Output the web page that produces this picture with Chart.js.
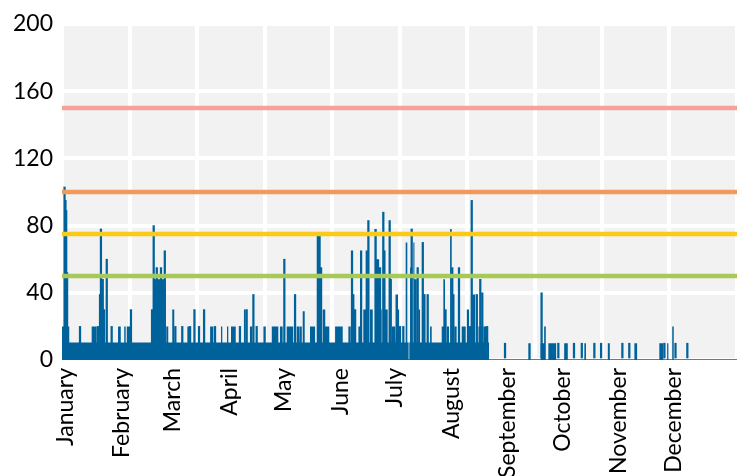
<!DOCTYPE html>
<html>
<head>
<meta charset="utf-8">
<script src="https://cdn.jsdelivr.net/npm/chart.js@4.4.1/dist/chart.umd.min.js"></script>
<style>
  html, body { margin: 0; padding: 0; background: #fff; overflow: hidden; }
  #wrap { width: 746px; height: 476px; }
</style>
</head>
<body>
<div id="wrap"><canvas id="chart" width="746" height="476"></canvas></div>
<script>
// x values are days of the year (0 = 1 January)
const monthNames = ['January', 'February', 'March', 'April', 'May', 'June',
    'July', 'August', 'September', 'October', 'November', 'December'];
const monthDays = [0, 31, 59, 90, 120, 151, 181, 212, 243, 273, 304, 334];
const gridDays = [-2, 35.1, 72.2, 109.3, 146.4, 183.5, 220.6, 257.7, 294.8, 331.9, 369];
const yTicks = [0, 40, 80, 120, 160, 200];

// threshold lines
const limitValues = [150, 100, 75, 50];
const limitColors = ['#f4a39c', '#f29a5c', '#fcc917', '#a7c957'];

// background level (start day, end day, value)
const baseSpans = [
    [-2, 121.3, 10], [121.7, 131.4, 10], [131.9, 188.1, 10], [189.3, 232.3, 10]
];

// wider blocks above the background level
const levelSpans = [
    [-2, 2.0, 20], [14.3, 17.1, 20], [28.8, 30.3, 20], [32.2, 33.0, 20], [33.6, 35.4, 20],
    [47.3, 48.2, 20], [48.2, 55.0, 48], [55.3, 56.4, 20], [58.6, 59.7, 30], [66.9, 67.8, 20],
    [79.4, 81.2, 20], [85.4, 86.1, 20], [88.7, 89.4, 20], [90.9, 93.5, 20], [98.0, 99.0, 30],
    [101.3, 102.6, 20], [108.7, 110.0, 20], [113.3, 116.9, 20], [117.8, 119.3, 20],
    [121.5, 125.1, 20], [127.0, 128.5, 20], [128.8, 129.8, 20], [130.3, 131.4, 29],
    [134.3, 137.1, 20], [138.0, 140.2, 74], [141.3, 142.7, 30], [142.7, 144.9, 20],
    [148.1, 152.3, 20], [155.4, 156.7, 20], [160.9, 162.2, 20], [163.6, 165.5, 30],
    [167.3, 168.8, 30], [169.7, 171.0, 78], [171.0, 172.3, 60], [172.3, 173.7, 30],
    [175.5, 177.0, 30], [179.2, 181.1, 20], [181.4, 182.7, 39], [182.7, 183.3, 30],
    [186.9, 187.8, 70], [189.3, 190.6, 55], [191.1, 191.7, 70], [191.7, 193.0, 48],
    [193.9, 194.8, 30], [200.3, 201.2, 20], [206.7, 207.6, 20], [207.6, 208.5, 48],
    [209.5, 210.7, 20], [211.3, 212.2, 78], [213.6, 214.9, 20], [217.7, 219.9, 20],
    [220.5, 221.7, 30], [223.4, 225.1, 39], [226.9, 228.7, 20], [229.6, 232.3, 20],
    [254.3, 255.6, 10], [261.1, 263.0, 10], [263.0, 263.9, 20], [265.3, 269.6, 10],
    [274.0, 276.0, 10], [282.2, 282.7, 10], [285.1, 286.0, 10], [298.0, 299.1, 10],
    [312.6, 314.1, 10], [326.3, 328.5, 10], [330.6, 331.3, 10], [333.4, 334.3, 20]
];

// single narrow peaks
const spikeDays = [
    -0.6, -0.1, 0.3, 0.8, 7.9, 17.8, 18.9, 19.4, 20.0, 20.4, 21.1, 22.6, 25.3, 35.9,
    47.5, 48.4, 50.1, 52.4, 54.5, 60.3, 64.1, 68.4, 70.8, 73.3, 76.1, 82.1, 95.8, 99.5,
    103.2, 105.0, 120.2, 126.1, 140.4, 157.4, 158.1, 159.1, 162.4, 165.5, 166.4, 172.8,
    174.6, 175.2, 178.1, 178.7, 183.8, 185.6, 190.2, 193.5, 196.3, 197.2, 199.0, 208.8,
    212.5, 213.1, 216.2, 222.3, 223.2, 226.0, 227.9, 229.0, 231.5,
    241.5, 261.6, 270.8, 279.4, 283.7, 290.6, 294.3, 306.0, 309.8, 329.1, 335.2, 341.7
];
const spikeValues = [
    103, 95, 89, 52, 20, 20, 39, 78, 34, 48, 30, 60, 20, 30,
    30, 80, 55, 55, 65, 20, 20, 20, 30, 20, 30, 20, 20, 30,
    39, 20, 60, 39, 55, 65, 39, 30, 65, 65, 83, 55,
    88, 65, 83, 48, 20, 20, 78, 55, 70, 39, 39, 30,
    55, 39, 55, 20, 95, 39, 48, 40, 20,
    10, 40, 10, 10, 10, 10, 10, 10, 10, 10, 10, 10
];

const blue = '#00629b';
const xMin = -2, xMax = 369;

function spansToPoints(spans, endDay) {
    const pts = [];
    spans.forEach(([s, e, v]) => {
        pts.push({x: s, y: 0}, {x: s, y: v}, {x: e, y: v}, {x: e, y: 0});
    });
    if (endDay !== undefined) pts.push({x: endDay, y: 0});
    return pts;
}

const plotBg = {
    id: 'plotBg',
    beforeDraw(chart) {
        const a = chart.chartArea;
        const ctx = chart.ctx;
        ctx.save();
        ctx.fillStyle = '#f2f2f2';
        ctx.fillRect(a.left, a.top, a.right - a.left, a.bottom - a.top);
        ctx.restore();
    }
};

const datasets = [];
limitValues.forEach((v, i) => {
    datasets.push({
        type: 'line',
        data: [{x: xMin, y: v}, {x: xMax, y: v}],
        borderColor: limitColors[i],
        borderWidth: 4.5,
        pointRadius: 0,
        order: 0
    });
});
datasets.push({
    type: 'bar',
    data: spikeDays.map((d, i) => ({x: d, y: spikeValues[i]})),
    backgroundColor: blue,
    barThickness: 1.6,
    order: 1
});
datasets.push({
    type: 'line',
    data: spansToPoints(levelSpans),
    borderWidth: 0,
    backgroundColor: blue,
    fill: 'origin',
    pointRadius: 0,
    order: 2
});
datasets.push({
    type: 'line',
    data: spansToPoints(baseSpans, xMax),
    borderWidth: 1.5,
    borderColor: blue,
    backgroundColor: blue,
    fill: 'origin',
    pointRadius: 0,
    order: 3
});

const tickFont = {family: 'Lato', size: 23};

// rotated labels would otherwise push the plot inwards
function noSidePadding(scale) {
    scale.paddingLeft = 0;
    scale.paddingRight = 0;
}

new Chart(document.getElementById('chart'), {
    type: 'line',
    data: {datasets: datasets},
    options: {
        responsive: false,
        animation: false,
        layout: {padding: {top: 24, right: 9, left: 0, bottom: 0}},
        plugins: {legend: {display: false}, tooltip: {enabled: false}},
        scales: {
            x: {
                type: 'linear',
                position: 'bottom',
                offset: false,
                min: xMin,
                max: xMax,
                grid: {display: false, offset: false},
                border: {display: false},
                afterBuildTicks: (scale) => {
                    scale.ticks = monthDays.map(v => ({value: v}));
                },
                afterFit: (scale) => { scale.height = 116; noSidePadding(scale); },
                ticks: {
                    autoSkip: false,
                    minRotation: 90,
                    maxRotation: 90,
                    padding: 0,
                    color: '#000',
                    font: tickFont,
                    callback: (value, index) => monthNames[index]
                }
            },
            xg: {
                type: 'linear',
                position: 'bottom',
                min: xMin,
                max: xMax,
                grid: {color: '#fff', lineWidth: 4, drawTicks: false},
                border: {display: false},
                afterBuildTicks: (scale) => {
                    scale.ticks = gridDays.map(v => ({value: v}));
                },
                afterFit: (scale) => { scale.height = 0; noSidePadding(scale); },
                ticks: {display: false}
            },
            y: {
                min: 0,
                max: 200,
                afterBuildTicks: (scale) => {
                    scale.ticks = yTicks.map(v => ({value: v}));
                },
                afterFit: (scale) => { scale.width = 62; scale.paddingTop = 0; scale.paddingBottom = 0; },
                grid: {color: '#fff', lineWidth: 4, drawTicks: false},
                border: {display: false},
                ticks: {padding: 9, color: '#000', font: tickFont}
            }
        }
    },
    plugins: [plotBg]
});
</script>
</body>
</html>
